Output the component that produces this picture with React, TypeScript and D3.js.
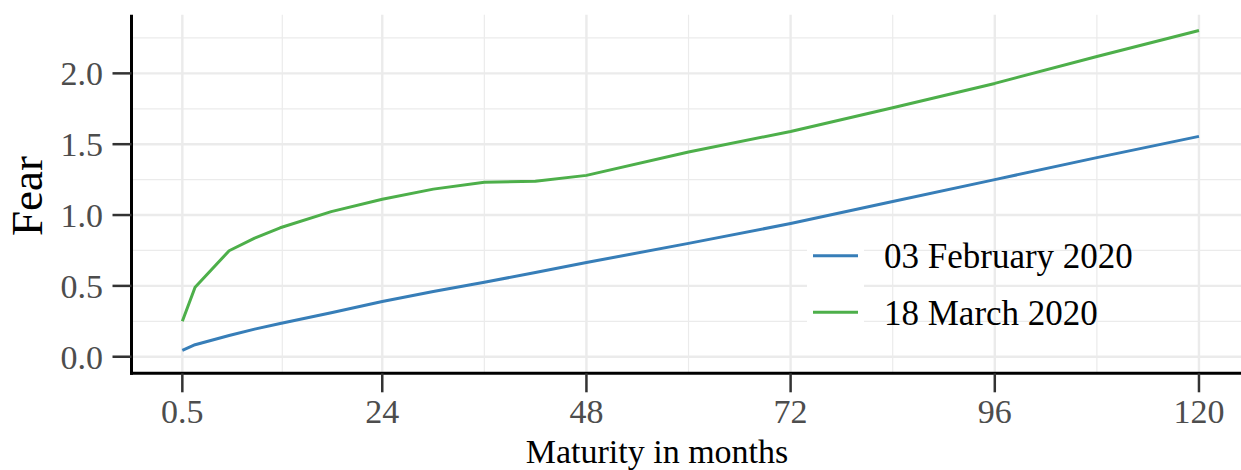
import React from 'react';
import * as d3 from 'd3';

// maturities (months) and fear values
const maturities = [0.5, 2, 6, 9, 12, 18, 24, 30, 36, 42, 48, 60, 72, 84, 96, 108, 120];
const feb03 = [0.045, 0.085, 0.15, 0.195, 0.235, 0.31, 0.39, 0.46, 0.525, 0.595, 0.665, 0.8, 0.94, 1.095, 1.25, 1.405, 1.555];
const mar18 = [0.25, 0.49, 0.748, 0.837, 0.91, 1.024, 1.111, 1.183, 1.232, 1.239, 1.28, 1.445, 1.59, 1.757, 1.929, 2.119, 2.302];

const seriesNames = ['03 February 2020', '18 March 2020'];
const seriesColors = ['#377EB8', '#4DAF4A'];

const xTicks = [0.5, 24, 48, 72, 96, 120];
const xTickLabels = ['0.5', '24', '48', '72', '96', '120'];
const yTicks = [0, 0.5, 1, 1.5, 2];
const yTickLabels = ['0.0', '0.5', '1.0', '1.5', '2.0'];

const xLimits = [-5.475, 125.975];
const yLimits = [-0.117, 2.414];

const FONT = '"Liberation Serif", "Times New Roman", serif';

const App = () => {
  const width = 1241;
  const height = 470;
  const panel = { left: 131.5, right: 1249.8, top: 14.7, bottom: 373.3 };

  const x = d3.scaleLinear().domain(xLimits).range([panel.left, panel.right]);
  const y = d3.scaleLinear().domain(yLimits).range([panel.bottom, panel.top]);

  const midpoints = (t) => t.slice(1).map((v, i) => (v + t[i]) / 2);
  const xMinor = midpoints(xTicks);
  const yMinor = [...midpoints(yTicks), 2.25];

  const line = d3.line().x(d => x(d[0])).y(d => y(d[1]));
  const series = [feb03, mar18].map(vals => maturities.map((m, i) => [m, vals[i]]));

  const grid = '#ebebeb';

  return (
    <svg width={width} height={height} style={{ position: 'absolute', left: 0, top: 0, background: '#fff' }}>
      {/* grid */}
      {yMinor.map(v => (
        <line key={'ym' + v} x1={panel.left} x2={panel.right} y1={y(v)} y2={y(v)} stroke={grid} strokeWidth={1.2} />
      ))}
      {xMinor.map(v => (
        <line key={'xm' + v} x1={x(v)} x2={x(v)} y1={panel.top} y2={panel.bottom} stroke={grid} strokeWidth={1.2} />
      ))}
      {yTicks.map(v => (
        <line key={'yg' + v} x1={panel.left} x2={panel.right} y1={y(v)} y2={y(v)} stroke={grid} strokeWidth={2.4} />
      ))}
      {xTicks.map(v => (
        <line key={'xg' + v} x1={x(v)} x2={x(v)} y1={panel.top} y2={panel.bottom} stroke={grid} strokeWidth={2.4} />
      ))}

      {/* lines */}
      {series.map((s, i) => (
        <path key={i} d={line(s)} fill="none" stroke={seriesColors[i]} strokeWidth={3} strokeLinejoin="round" />
      ))}

      {/* axes */}
      <line x1={panel.left} x2={panel.left} y1={panel.top} y2={panel.bottom + 1.5} stroke="#000" strokeWidth={3} />
      <line x1={panel.left - 1.5} x2={width} y1={panel.bottom} y2={panel.bottom} stroke="#000" strokeWidth={3} />
      {yTicks.map((v, i) => (
        <g key={'yt' + v}>
          <line x1={panel.left - 19} x2={panel.left} y1={y(v)} y2={y(v)} stroke="#333" strokeWidth={2.5} />
          <text x={103} y={y(v) + 12} textAnchor="end" fontFamily={FONT} fontSize={34} fill="#4d4d4d">{yTickLabels[i]}</text>
        </g>
      ))}
      {xTicks.map((v, i) => (
        <g key={'xt' + v}>
          <line x1={x(v)} x2={x(v)} y1={panel.bottom} y2={panel.bottom + 19} stroke="#333" strokeWidth={2.5} />
          <text x={x(v)} y={422.7} textAnchor="middle" fontFamily={FONT} fontSize={34} fill="#4d4d4d">{xTickLabels[i]}</text>
        </g>
      ))}

      {/* titles */}
      <text x={657} y={463} textAnchor="middle" fontFamily={FONT} fontSize={34} fill="#000">Maturity in months</text>
      <text transform="translate(41.7,196) rotate(-90)" textAnchor="middle" fontFamily={FONT} fontSize={45} fill="#000">Fear</text>

      {/* legend */}
      {seriesNames.map((name, i) => {
        const cy = 255.7 + i * 56.6;
        return (
          <g key={name}>
            <rect x={807} y={cy - 28.3} width={57} height={56.6} fill="#fff" />
            <line x1={813} x2={858} y1={cy} y2={cy} stroke={seriesColors[i]} strokeWidth={3} />
            <text x={884} y={cy + 12.3} fontFamily={FONT} fontSize={35} fill="#000">{name}</text>
          </g>
        );
      })}
    </svg>
  );
};

export default App;
